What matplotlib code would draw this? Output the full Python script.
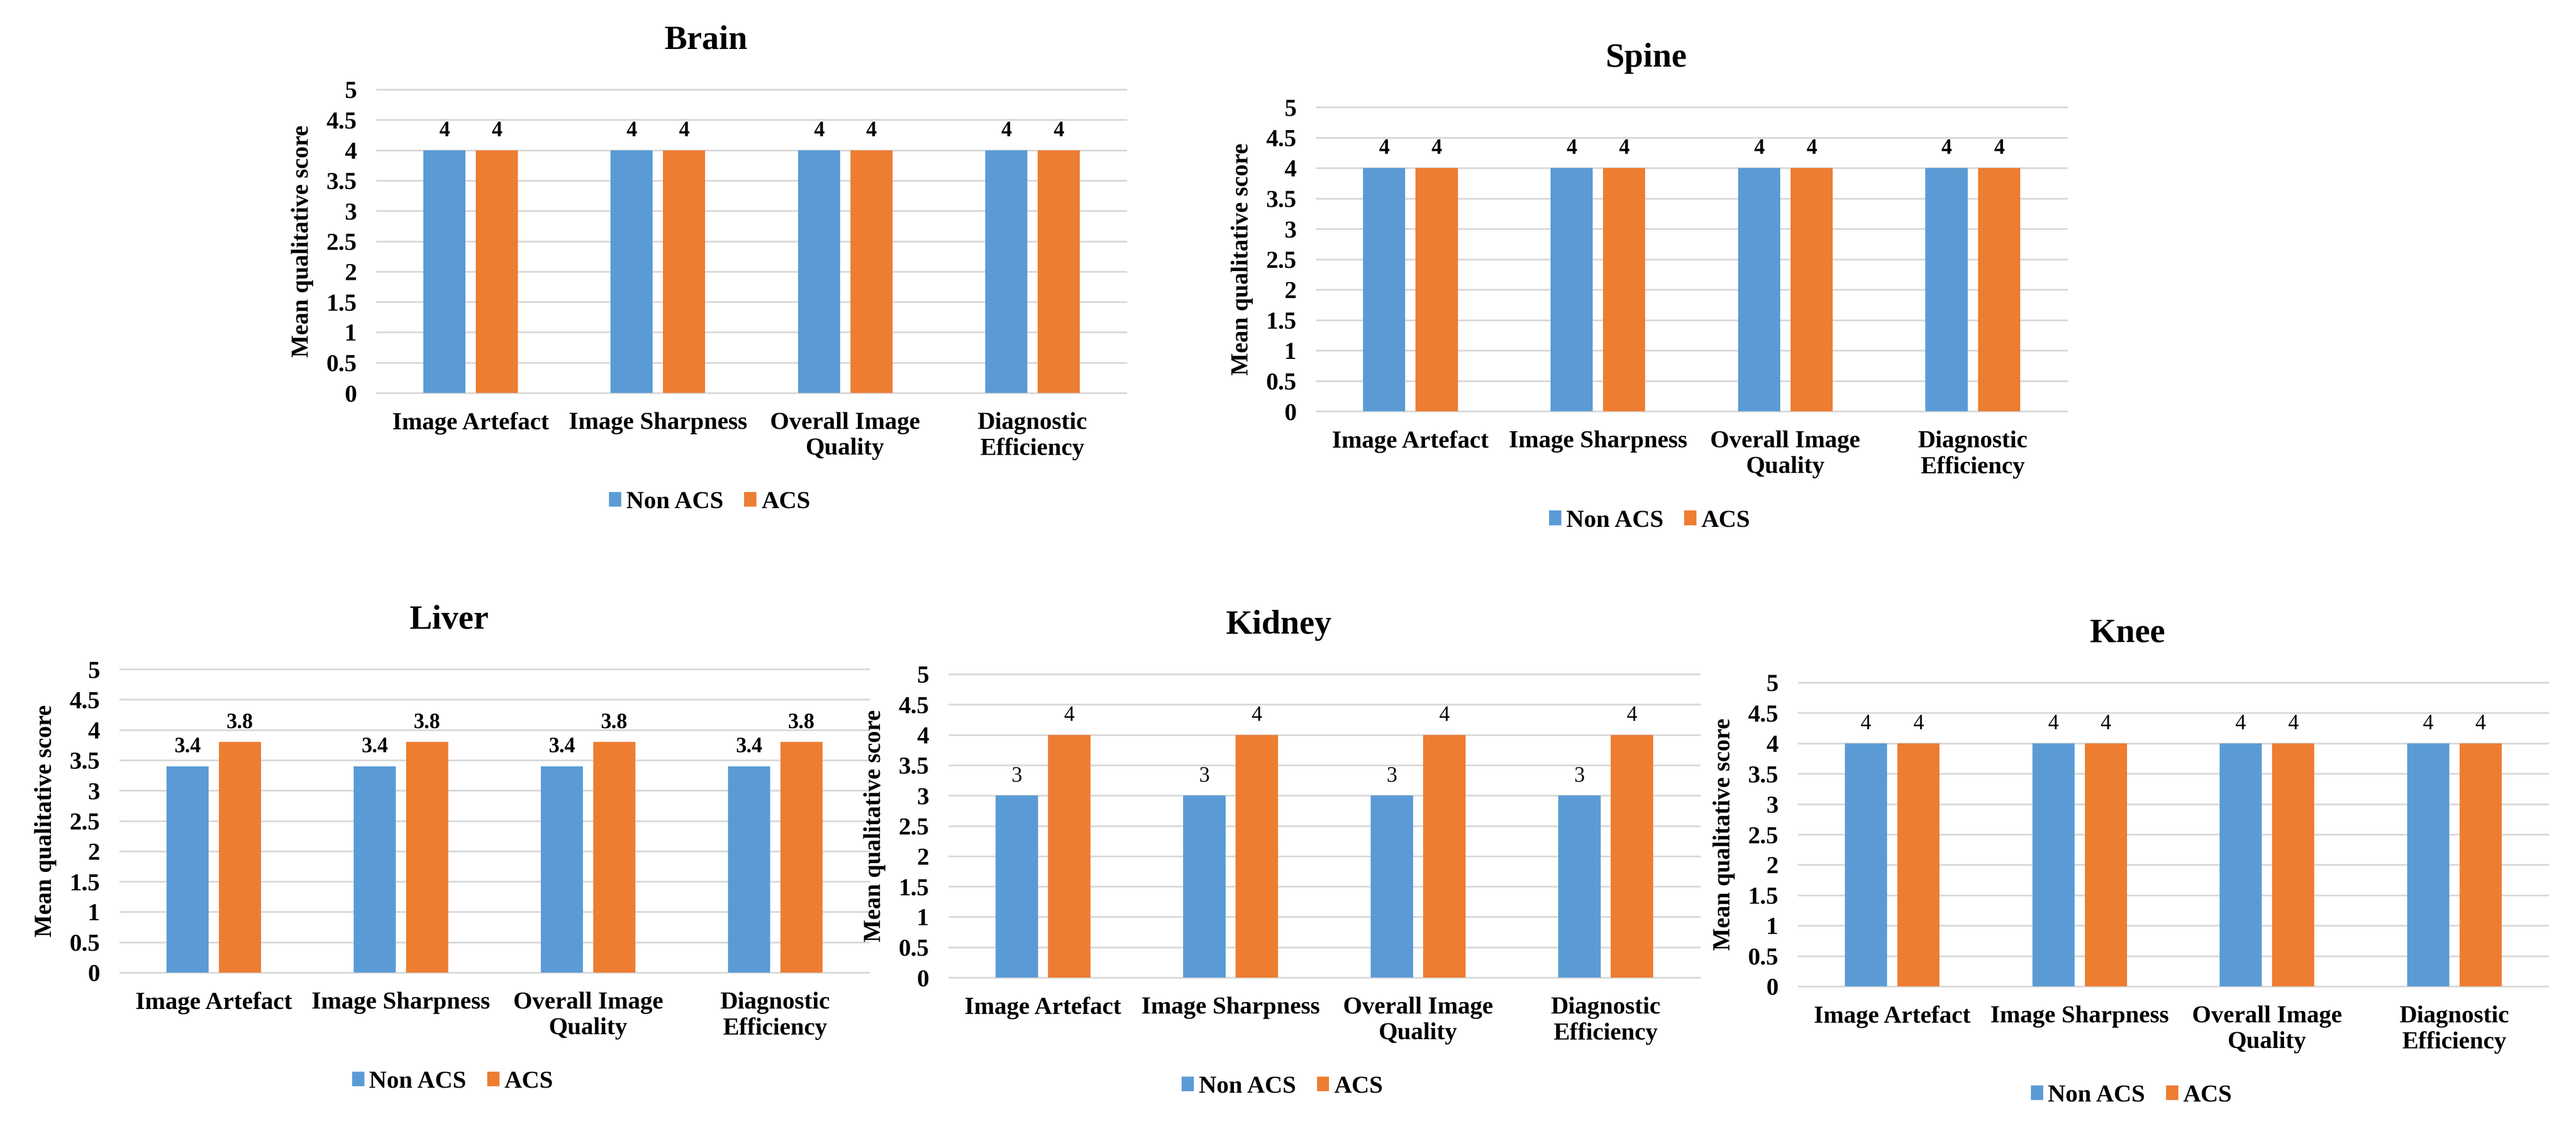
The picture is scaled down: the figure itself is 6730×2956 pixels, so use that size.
import numpy as np
import matplotlib.pyplot as plt

# data
categories = ["Image Artefact", "Image Sharpness", "Overall Image\nQuality", "Diagnostic\nEfficiency"]
series_names = ["Non ACS", "ACS"]

brain_non_acs = [4, 4, 4, 4]
brain_acs = [4, 4, 4, 4]
spine_non_acs = [4, 4, 4, 4]
spine_acs = [4, 4, 4, 4]
liver_non_acs = [3.4, 3.4, 3.4, 3.4]
liver_acs = [3.8, 3.8, 3.8, 3.8]
kidney_non_acs = [3, 3, 3, 3]
kidney_acs = [4, 4, 4, 4]
knee_non_acs = [4, 4, 4, 4]
knee_acs = [4, 4, 4, 4]

y_ticks = [0, 0.5, 1, 1.5, 2, 2.5, 3, 3.5, 4, 4.5, 5]
y_tick_labels = ["0", "0.5", "1", "1.5", "2", "2.5", "3", "3.5", "4", "4.5", "5"]

BLUE = "#5B9BD5"
ORANGE = "#ED7D31"
GRID = "#D9D9D9"

W, H = 6730, 2956
plt.rcParams['font.family'] = ['Liberation Serif', 'DejaVu Serif']
fig = plt.figure(figsize=(W / 100, H / 100), dpi=100)


def make_axes(left, right, top, bottom):
    return fig.add_axes([left / W, 1 - bottom / H, (right - left) / W, (bottom - top) / H])


def draw_panel(ax, name, non_acs, acs, label_weight):
    x = np.arange(len(categories))
    w = 0.225
    b1 = ax.bar(x - 0.14, non_acs, w, color=BLUE, label=series_names[0], zorder=3)
    b2 = ax.bar(x + 0.14, acs, w, color=ORANGE, label=series_names[1], zorder=3)
    for b in (b1, b2):
        ax.bar_label(b, padding=18, fontsize=40, fontweight=label_weight)

    ax.set_xlim(-0.5, len(categories) - 0.5)
    ax.set_ylim(0, 5)
    ax.set_yticks(y_ticks)
    ax.set_yticklabels(y_tick_labels, fontsize=46, fontweight='bold')
    ax.set_xticks(x)
    ax.set_xticklabels(categories, fontsize=46, fontweight='bold')
    ax.tick_params(axis='y', length=0, pad=38)
    ax.tick_params(axis='x', length=0, pad=36)
    ax.yaxis.grid(True, color=GRID, linewidth=3.3, zorder=0)
    for gl in ax.get_ygridlines():
        gl.set_clip_on(False)
    for s in ax.spines.values():
        s.set_visible(False)

    ax.set_ylabel("Mean qualitative score", fontsize=45, fontweight='bold', va='center')
    ax.yaxis.set_label_coords(-0.0996, 0.5)

    ax.text(0.439, 1.161, name, transform=ax.transAxes, ha='center', va='center',
            fontsize=64, fontweight='bold')

    ax.legend(loc='center', bbox_to_anchor=(0.444, -0.36), ncol=2, frameon=False,
              prop={'size': 46, 'weight': 'bold'}, handlelength=0.5, handleheight=0.55,
              handletextpad=0.2, columnspacing=0.85)


ax_brain = make_axes(985, 2942, 234, 1027)
ax_spine = make_axes(3440, 5399, 280, 1075)
ax_liver = make_axes(314, 2270, 1749, 2542)
ax_kidney = make_axes(2480, 4440, 1762, 2555)
ax_knee = make_axes(4699, 6657, 1784, 2578)

draw_panel(ax_brain, "Brain", brain_non_acs, brain_acs, 'bold')
draw_panel(ax_spine, "Spine", spine_non_acs, spine_acs, 'bold')
draw_panel(ax_liver, "Liver", liver_non_acs, liver_acs, 'bold')
draw_panel(ax_kidney, "Kidney", kidney_non_acs, kidney_acs, 'normal')
draw_panel(ax_knee, "Knee", knee_non_acs, knee_acs, 'normal')

fig.savefig("out.png", dpi=100, facecolor='white')
